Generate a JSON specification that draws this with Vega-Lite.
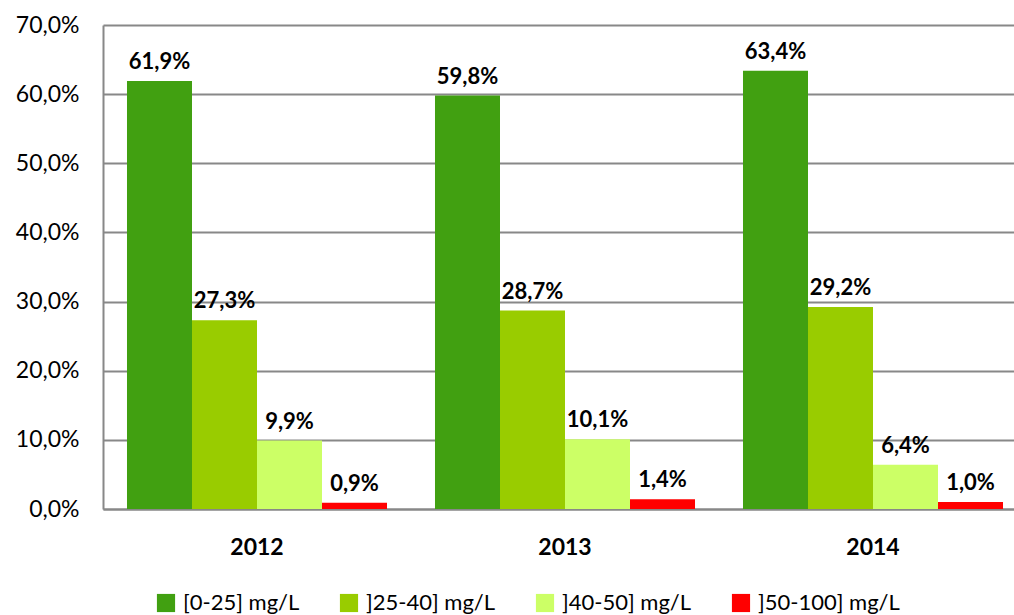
{
  "$schema": "https://vega.github.io/schema/vega-lite/v6.json",
  "width": 911,
  "height": 484,
  "autosize": {"type": "none"},
  "padding": {"left": 103, "top": 25, "right": 0, "bottom": 106},
  "config": {
    "locale": {"number": {"decimal": ",", "thousands": ".", "grouping": [3], "currency": ["", " €"]}},
    "view": {"stroke": null},
    "font": "Lato"
  },
  "data": {
    "values": [
      {"year": "2012", "cat": "[0-25] mg/L", "v": 0.619},
      {"year": "2012", "cat": "]25-40] mg/L", "v": 0.273},
      {"year": "2012", "cat": "]40-50] mg/L", "v": 0.099},
      {"year": "2012", "cat": "]50-100] mg/L", "v": 0.009},
      {"year": "2013", "cat": "[0-25] mg/L", "v": 0.598},
      {"year": "2013", "cat": "]25-40] mg/L", "v": 0.287},
      {"year": "2013", "cat": "]40-50] mg/L", "v": 0.101},
      {"year": "2013", "cat": "]50-100] mg/L", "v": 0.014},
      {"year": "2014", "cat": "[0-25] mg/L", "v": 0.634},
      {"year": "2014", "cat": "]25-40] mg/L", "v": 0.292},
      {"year": "2014", "cat": "]40-50] mg/L", "v": 0.064},
      {"year": "2014", "cat": "]50-100] mg/L", "v": 0.010}
    ]
  },
  "encoding": {
    "x": {
      "field": "year", "type": "nominal",
      "scale": {"range": [0, 924], "paddingInner": 0.1558, "paddingOuter": 0.0779},
      "axis": {"title": null, "labelAngle": 0, "labelFontSize": 23, "labelFontWeight": "bold", "labelColor": "#000", "labelPadding": 27, "ticks": false, "domainColor": "#888", "domainWidth": 2}
    },
    "xOffset": {"field": "cat", "type": "nominal", "sort": ["[0-25] mg/L", "]25-40] mg/L", "]40-50] mg/L", "]50-100] mg/L"], "scale": {"paddingInner": 0, "paddingOuter": 0}},
    "y": {
      "field": "v", "type": "quantitative",
      "scale": {"domain": [0, 0.7], "nice": false},
      "axis": {"title": null, "format": ".1%", "values": [0, 0.1, 0.2, 0.3, 0.4, 0.5, 0.6, 0.7], "labelFontSize": 23, "labelColor": "#000", "labelPadding": 24, "ticks": false, "grid": true, "gridColor": "#888", "gridWidth": 2, "domainColor": "#888", "domainWidth": 2}
    }
  },
  "layer": [
    {
      "mark": {"type": "bar"},
      "encoding": {
        "color": {
          "field": "cat", "type": "nominal",
          "sort": ["[0-25] mg/L", "]25-40] mg/L", "]40-50] mg/L", "]50-100] mg/L"],
          "scale": {"domain": ["[0-25] mg/L", "]25-40] mg/L", "]40-50] mg/L", "]50-100] mg/L"], "range": ["#41A011", "#99CC00", "#CCFF66", "#FF0000"]},
          "legend": {"title": null, "orient": "none", "legendX": 52, "legendY": 567, "direction": "horizontal", "symbolType": "square", "symbolSize": 330, "symbolStrokeWidth": 0, "labelFontSize": 22, "labelColor": "#000", "columnPadding": 38, "labelOffset": 6, "labelLimit": 300}
        }
      }
    },
    {
      "mark": {"type": "text", "baseline": "bottom", "dy": -7, "fontSize": 22, "fontWeight": "bold", "color": "#000"},
      "encoding": {
        "text": {"field": "v", "type": "quantitative", "format": ".1%"}
      }
    }
  ]
}
